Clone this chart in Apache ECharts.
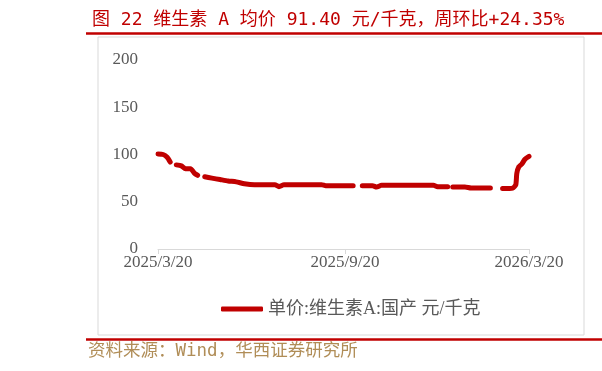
<!DOCTYPE html>
<html>
<head>
<meta charset="utf-8">
<script src="https://cdn.jsdelivr.net/npm/echarts@6/dist/echarts.min.js"></script>
<style>
html,body{margin:0;padding:0;background:#fff;}
#chart{width:602px;height:371px;}
</style>
</head>
<body>
<div id="chart"></div>
<script>
// 维生素A 国产单价，null 为缺失
let dates = [
	'2025-03-20','2025-03-25','2025-03-29','2025-04-01','2025-04-04','2025-04-07','2025-04-12','2025-04-16',
	'2025-04-21','2025-04-25','2025-04-28','2025-05-02','2025-05-05','2025-05-12','2025-05-20','2025-05-28',
	'2025-06-05','2025-06-13','2025-06-23','2025-07-03','2025-07-13','2025-07-17','2025-07-22','2025-08-07',
	'2025-08-28','2025-09-01','2025-09-15','2025-09-28','2025-10-02','2025-10-07','2025-10-17','2025-10-21',
	'2025-10-26','2025-11-13','2025-12-03','2025-12-16','2025-12-20','2025-12-30','2026-01-02','2026-01-04',
	'2026-01-16','2026-01-22','2026-02-10','2026-02-16','2026-02-22','2026-03-04','2026-03-07','2026-03-08',
	'2026-03-10','2026-03-13','2026-03-16','2026-03-20'
];
let prices = [
	100.5, 100, 97, 92, null, 89, 88, 85,
	85, 80, 78, null, 76.5, 75, 73.5, 72,
	71, 69, 68, 68, 68, 66, 68, 68,
	68, 67, 67, 67, null, 67, 67, 65.5,
	67.5, 67.5, 67.5, 67.5, 66, 66, null, 65.5,
	65.5, 64.5, 64.5, null, 64, 64.5, 68, 80,
	87, 90, 95, 98
];
let tickDates = ['2025-03-20', '2025-09-20', '2026-03-20'];
let yTicks = [0, 50, 100, 150, 200];

function toTime(s){
	let p = s.split('-');
	return new Date(+p[0], +p[1] - 1, +p[2]).getTime();
}
function fmtDate(t){
	let d = new Date(t);
	return d.getFullYear() + '/' + (d.getMonth() + 1) + '/' + d.getDate();
}

let seriesData = [];
for(let i = 0; i < dates.length; i++){
	seriesData.push([toTime(dates[i]), prices[i]]);
}
let tickTimes = tickDates.map(toTime);

let red = '#C00000';
let gray = '#595959';
let serif = "'Liberation Serif','Noto Sans CJK SC',serif";
let mono = "'DejaVu Sans Mono','Noto Sans CJK SC',monospace";

let chart = echarts.init(document.getElementById('chart'));
let option = {
	animation: false,
	title: {
		text: '图 22 维生素 A 均价 91.40 元/千克，周环比+24.35%',
		left: 87,
		top: 6,
		textStyle: {
			color: red,
			fontSize: 18,
			fontWeight: 'normal',
			fontFamily: mono
		}
	},
	grid: {
		left: 158,
		right: 73,
		top: 60,
		bottom: 122
	},
	xAxis: {
		type: 'value',
		min: tickTimes[0],
		max: tickTimes[tickTimes.length - 1],
		axisLine: { lineStyle: { color: '#D9D9D9', width: 1 } },
		axisTick: { show: true, length: 5, customValues: tickTimes, lineStyle: { color: '#D9D9D9' } },
		axisLabel: {
			customValues: tickTimes,
			formatter: function(v){ return fmtDate(v); },
			color: gray,
			fontSize: 17,
			fontFamily: serif,
			margin: 5
		},
		splitLine: { show: false }
	},
	yAxis: {
		type: 'value',
		min: yTicks[0],
		max: yTicks[yTicks.length - 1],
		interval: 50,
		axisLine: { show: false },
		axisTick: { show: false },
		splitLine: { show: false },
		axisLabel: {
			color: gray,
			fontSize: 17,
			fontFamily: serif,
			margin: 20
		}
	},
	legend: {
		bottom: 48,
		left: 216,
		itemWidth: 42,
		itemHeight: 5,
		itemGap: 6,
		icon: 'roundRect',
		data: [{ name: '单价:维生素A:国产 元/千克', itemStyle: { color: red } }],
		textStyle: {
			color: gray,
			fontSize: 18,
			fontFamily: serif
		}
	},
	series: [{
		name: '单价:维生素A:国产 元/千克',
		type: 'line',
		data: seriesData,
		showSymbol: false,
		symbol: 'none',
		connectNulls: false,
		smooth: 0.2,
		itemStyle: { color: red },
		lineStyle: { color: red, width: 5, cap: 'round', join: 'round' }
	}],
	graphic: [
		{
			type: 'rect',
			shape: { x: 98, y: 37, width: 486, height: 298 },
			style: { fill: 'none', stroke: '#D9D9D9', lineWidth: 1 },
			silent: true
		},
		{
			type: 'line',
			shape: { x1: 86, y1: 33.5, x2: 602, y2: 33.5 },
			style: { stroke: red, lineWidth: 2.5 },
			silent: true
		},
		{
			type: 'line',
			shape: { x1: 86, y1: 339.5, x2: 602, y2: 339.5 },
			style: { stroke: red, lineWidth: 2.5 },
			silent: true
		},
		{
			type: 'text',
			left: 88,
			top: 343,
			style: {
				text: '资料来源：Wind，华西证券研究所',
				fill: '#B08D57',
				fontSize: 17.5,
				fontFamily: mono
			},
			silent: true
		}
	]
};
chart.setOption(option);
</script>
</body>
</html>
